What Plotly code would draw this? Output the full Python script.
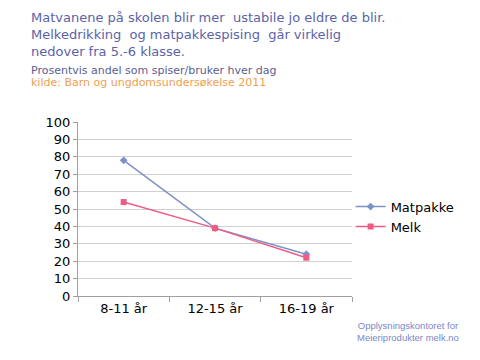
import plotly.graph_objects as go

categories = ["8-11 år", "12-15 år", "16-19 år"]
matpakke = [78, 39, 24]
melk = [54, 39, 22]

fig = go.Figure()
fig.add_trace(go.Scatter(x=categories, y=matpakke, name="Matpakke", mode="lines+markers",
                         line=dict(color="#7b92c9", width=1.5),
                         marker=dict(symbol="diamond", size=6, color="#7b92c9")))
fig.add_trace(go.Scatter(x=categories, y=melk, name="Melk", mode="lines+markers",
                         line=dict(color="#ee5c85", width=1.5),
                         marker=dict(symbol="square", size=6, color="#ee5c85")))

font = "DejaVu Sans, Verdana, sans-serif"
fig.update_layout(
    width=480, height=360,
    margin=dict(l=78, r=128, t=122, b=64),
    paper_bgcolor="white", plot_bgcolor="white",
    font=dict(family=font, size=13, color="#000000"),
    showlegend=True,
    legend=dict(x=0.995, y=0.60, xanchor="left", yanchor="top",
                font=dict(size=13, color="#000000"), bgcolor="rgba(0,0,0,0)",
                itemwidth=30, tracegroupgap=0),
    xaxis=dict(type="category", range=[-0.5, 2.5], showgrid=False, showline=True,
               linecolor="#a0a0a0", ticks="outside", tickson="boundaries", ticklen=5,
               tickcolor="#a0a0a0", tickfont=dict(size=13)),
    yaxis=dict(range=[0, 100], dtick=10, showgrid=True, gridcolor="#d0d0d0",
               showline=True, linecolor="#a0a0a0", ticks="outside", ticklen=4,
               tickcolor="#a0a0a0", zeroline=False, tickfont=dict(size=13)),
)

annotations = [
    dict(text="Matvanene på skolen blir mer  ustabile jo eldre de blir.<br>"
              "Melkedrikking  og matpakkespising  går virkelig<br>nedover fra 5.-6 klasse.",
         x=29, y=8, size=13, color="#5b63a8"),
    dict(text="Prosentvis andel som spiser/bruker hver dag",
         x=29, y=62, size=11, color="#5a6090"),
    dict(text="kilde: Barn og ungdomsundersøkelse 2011",
         x=29, y=74, size=11, color="#f0a050"),
]
for a in annotations:
    fig.add_annotation(text=a["text"], xref="paper", yref="paper",
                       x=(a["x"] - 78) / 274, y=(296 - a["y"]) / 174,
                       xanchor="left", yanchor="top", showarrow=False,
                       font=dict(family=font, size=a["size"], color=a["color"]),
                       align="left")
fig.add_annotation(text="Opplysningskontoret for<br>Meieriprodukter melk.no",
                   xref="paper", yref="paper", x=(408 - 78) / 274, y=(296 - 318) / 174,
                   xanchor="center", yanchor="top", showarrow=False, align="center",
                   font=dict(family="Liberation Sans Narrow, Arial, sans-serif", size=9.5,
                             color="#7d86c8"))

fig.write_html("out.html", config={"displayModeBar": False},
               post_script="document.body.style.margin='0';")
